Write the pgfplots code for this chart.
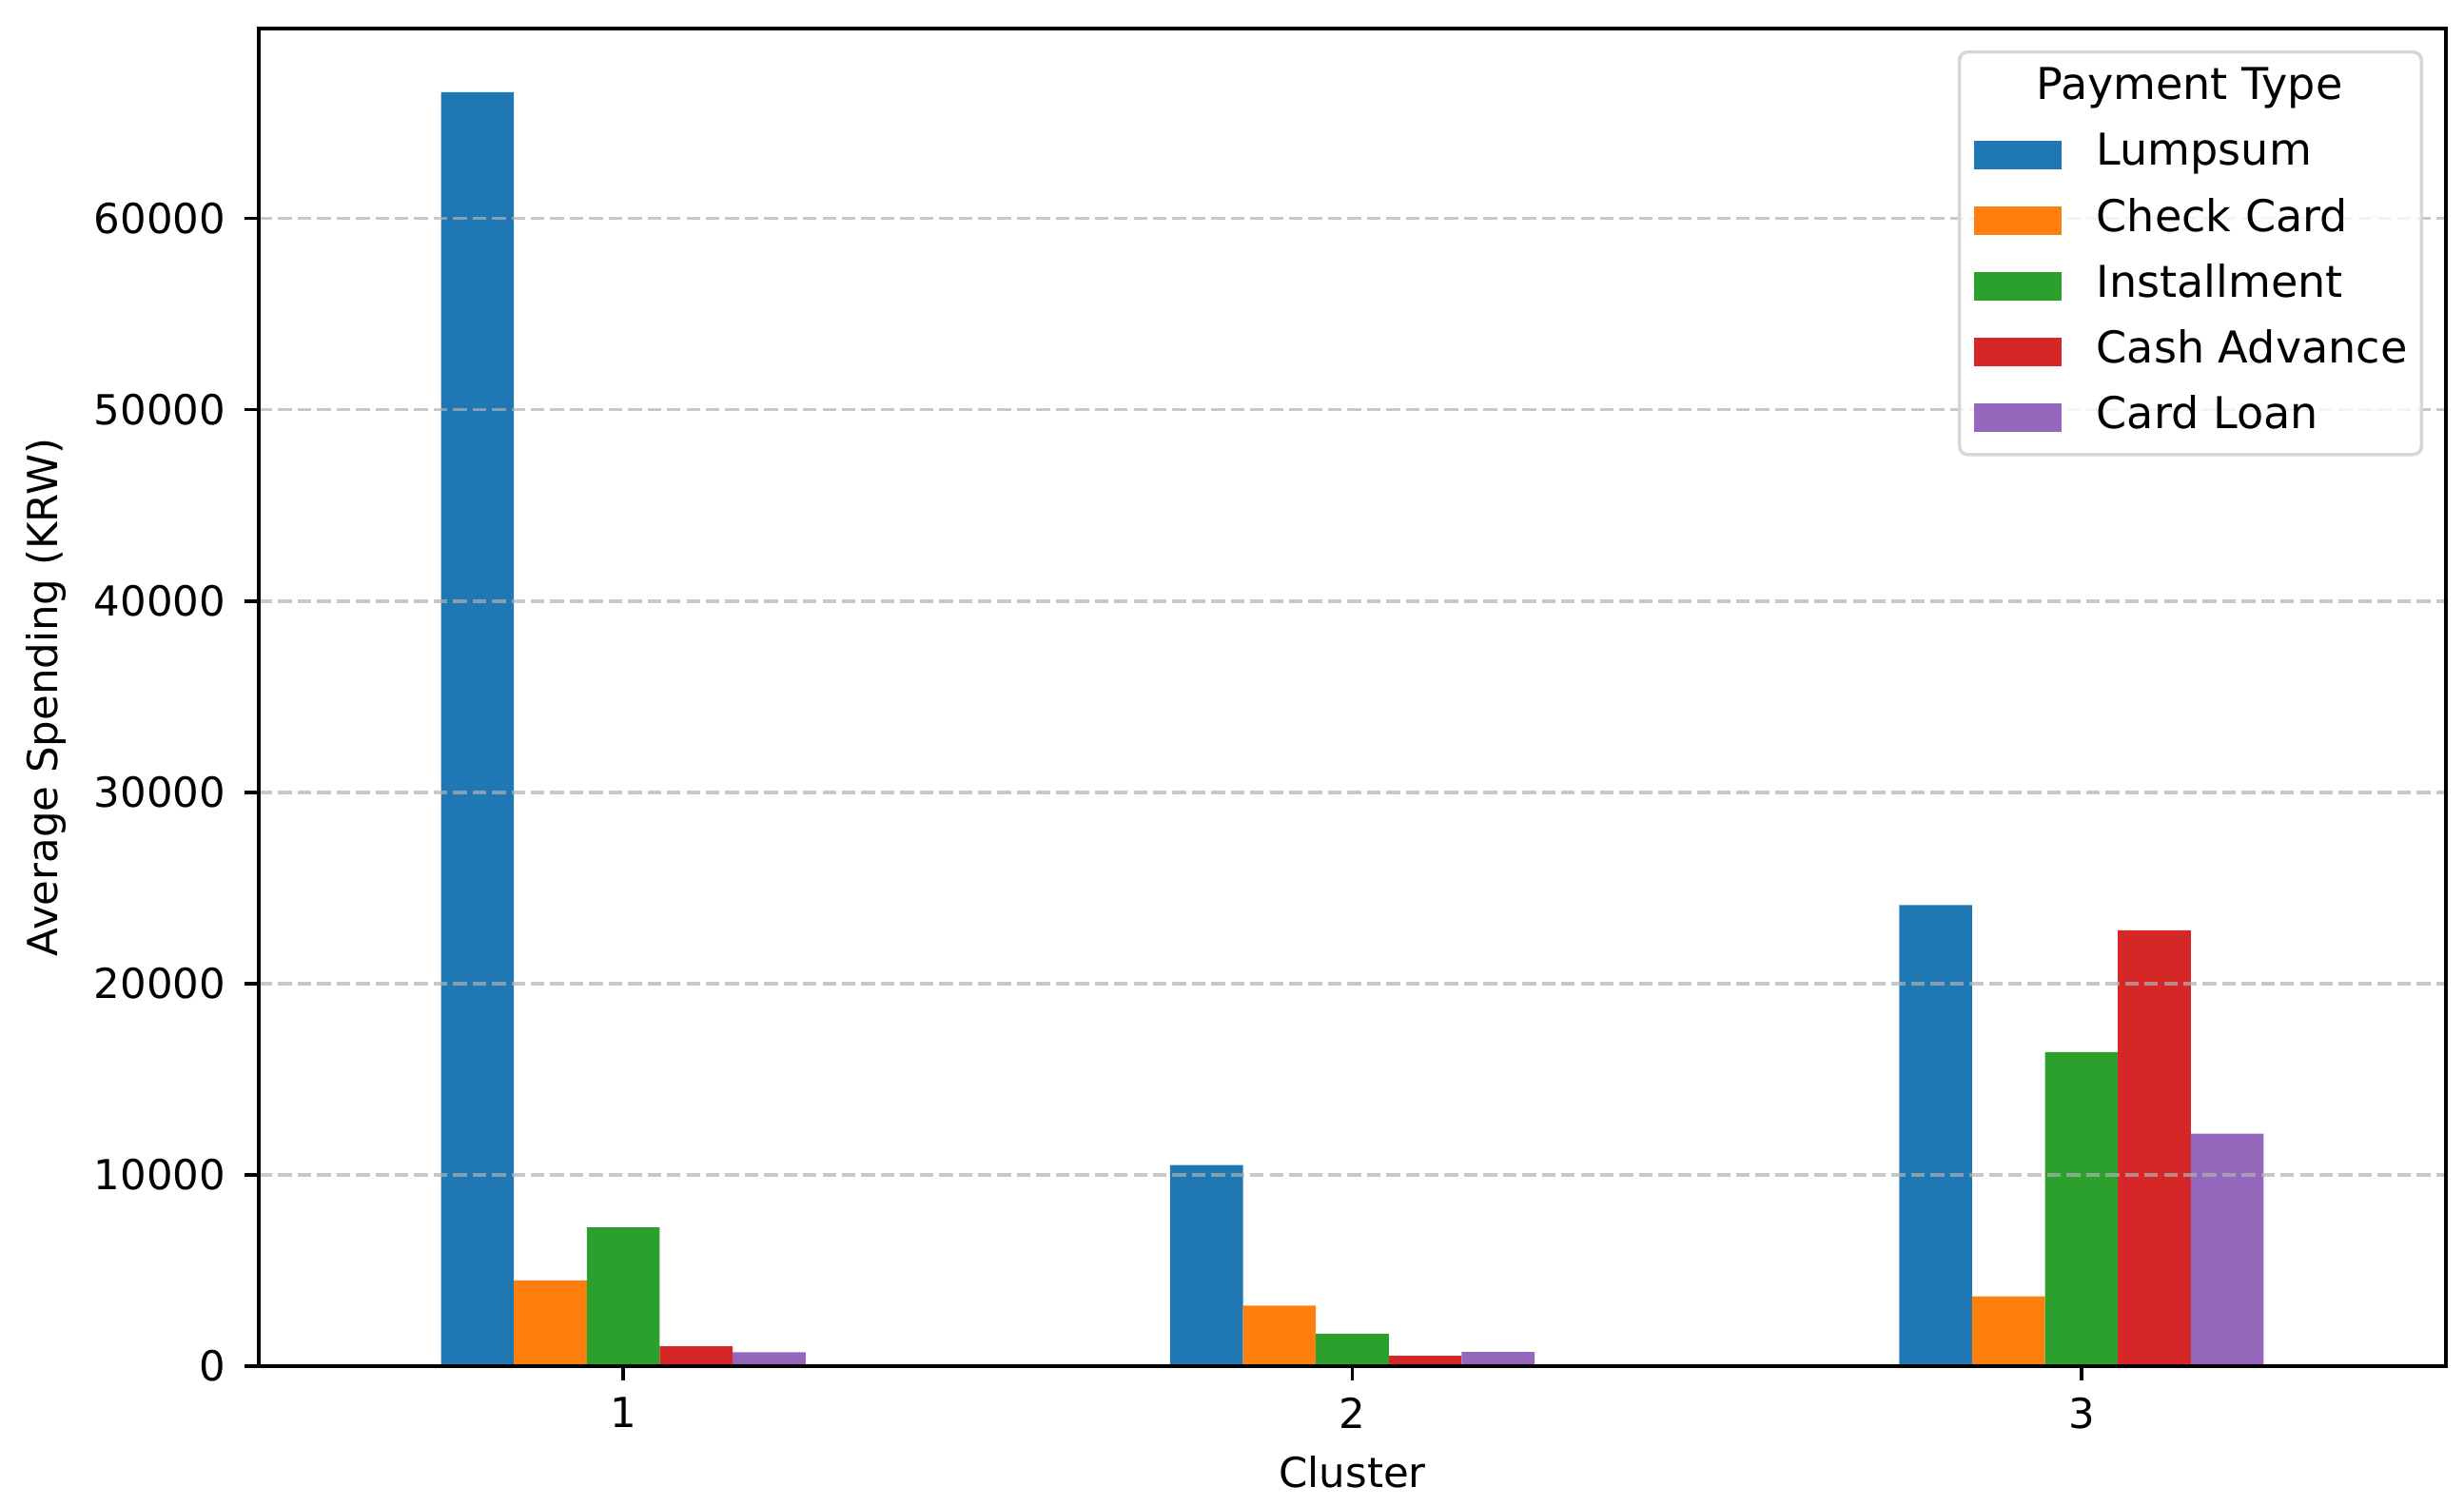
\documentclass[border=0pt]{standalone}
\usepackage{pgfplots}
\pgfplotsset{compat=1.18}
\usepackage{fontspec}
\setmainfont{DejaVu Sans}
\definecolor{c1}{HTML}{1F77B4}
\definecolor{c2}{HTML}{FF7F0E}
\definecolor{c3}{HTML}{2CA02C}
\definecolor{c4}{HTML}{D62728}
\definecolor{c5}{HTML}{9467BD}
\definecolor{gridc}{HTML}{B0B0B0}
\definecolor{legc}{HTML}{D6D6D6}
\pgfplotsset{mylegend/.style={legend image code/.code={\fill[##1, fill opacity=1, draw=none, sharp corners] (0pt,-3.45pt) rectangle (21.2pt,3.45pt);}}}
\begin{document}
\begin{tikzpicture}
\begin{axis}[
  scale only axis, width=528.8pt, height=323.4pt,
  xmin=0.5, xmax=3.5, ymin=0, ymax=69930,
  xtick={1,2,3}, ytick={0,10000,20000,30000,40000,50000,60000},
  scaled y ticks=false,
  /pgf/number format/assume math mode=true,
  /pgf/number format/fixed,
  /pgf/number format/1000 sep={},
  tick align=outside, tick pos=left,
  major tick length=3.5pt,
  every tick/.style={black, line width=0.8pt},
  axis line style={line width=0.8pt},
  ticklabel style={font=\fontsize{10}{12}\selectfont, inner sep=0pt},
  xticklabel style={anchor=north, yshift=-3.9pt},
  yticklabel style={anchor=east, xshift=-4.3pt},
  ymajorgrids,
  major grid style={draw=gridc, draw opacity=0.7, line width=0.8pt, dash pattern=on 3.3pt off 1.4pt},
  axis on top,
  xlabel={Cluster}, ylabel={Average Spending (KRW)},
  xlabel style={at={(axis description cs:0.5,-0.0789)}, anchor=center, font=\fontsize{10}{12}\selectfont, inner sep=0pt},
  ylabel style={at={(axis description cs:-0.0972,0.5)}, anchor=center, font=\fontsize{10}{12}\selectfont, inner sep=0pt},
  legend cell align=left,
  legend style={at={(1,1)}, anchor=north east, xshift=-5.5pt, yshift=-5.3pt,
    draw=legc, line width=0.8pt, rounded corners=2pt, fill=white, fill opacity=0.8, text opacity=1,
    inner xsep=3.45pt, inner ysep=4pt, row sep=6.1pt,
    font=\fontsize{10.6}{12}\selectfont,
    nodes={inner sep=0pt, text height=7.5pt, text depth=2.3pt},
    /tikz/every odd column/.append style={column sep=8.5pt}},
]
\coordinate (SW) at (rel axis cs:0,0);
\coordinate (NE) at (rel axis cs:1,1);
\addlegendimage{empty legend}
\addlegendentry{\hspace*{-14.6pt}Payment Type}
\addplot[ybar, bar width=0.1, bar shift=-0.2, fill=c1, draw=none, mylegend] coordinates {(1,66600) (2,10520) (3,24100)};
\addlegendentry{Lumpsum}
\addplot[ybar, bar width=0.1, bar shift=-0.1, fill=c2, draw=none, mylegend] coordinates {(1,4480) (2,3160) (3,3650)};
\addlegendentry{Check Card}
\addplot[ybar, bar width=0.1, bar shift=0, fill=c3, draw=none, mylegend] coordinates {(1,7260) (2,1700) (3,16420)};
\addlegendentry{Installment}
\addplot[ybar, bar width=0.1, bar shift=0.1, fill=c4, draw=none, mylegend] coordinates {(1,1040) (2,546) (3,22780)};
\addlegendentry{Cash Advance}
\addplot[ybar, bar width=0.1, bar shift=0.2, fill=c5, draw=none, mylegend] coordinates {(1,730) (2,745) (3,12150)};
\addlegendentry{Card Loan}
\end{axis}
\path ([shift={(-62.56pt,-33.6pt)}]SW) rectangle ([shift={(4.37pt,6.9pt)}]NE);
\end{tikzpicture}
\end{document}
